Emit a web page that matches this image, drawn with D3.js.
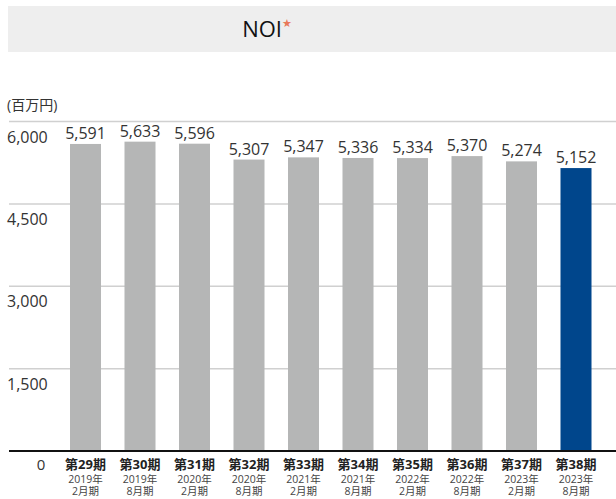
<!DOCTYPE html>
<html lang="ja">
<head>
<meta charset="utf-8">
<script src="https://cdn.jsdelivr.net/npm/d3@7"></script>
<style>
  html, body { margin: 0; padding: 0; background: #fff; }
  svg { display: block; font-family: "Open Sans", "Noto Sans CJK JP", sans-serif; }
</style>
</head>
<body>
<svg id="chart" width="616" height="499"></svg>
<script>
// NOI by fiscal period (millions of yen)
const periods = ["第29期", "第30期", "第31期", "第32期", "第33期", "第34期", "第35期", "第36期", "第37期", "第38期"];
const years = ["2019年", "2019年", "2020年", "2020年", "2021年", "2021年", "2022年", "2022年", "2023年", "2023年"];
const months = ["2月期", "8月期", "2月期", "8月期", "2月期", "8月期", "2月期", "8月期", "2月期", "8月期"];
const noi = [5591, 5633, 5596, 5307, 5347, 5336, 5334, 5370, 5274, 5152];
const yTicks = [1500, 3000, 4500, 6000];

const svg = d3.select("#chart");

// title band
svg.append("rect").attr("x", 8).attr("y", 6).attr("width", 608).attr("height", 46).attr("fill", "#eeeeee");
const title = svg.append("text").attr("x", 267).attr("y", 37).attr("text-anchor", "middle")
  .attr("font-size", 22).attr("fill", "#111");
title.append("tspan").text("NOI");
title.append("tspan").text("★").attr("fill", "#e8795a").attr("font-size", 11).attr("dy", -10).attr("font-family", "DejaVu Sans");

svg.append("text").attr("x", 7).attr("y", 110).attr("font-size", 14).attr("fill", "#333").text("(百万円)");

const y = d3.scaleLinear().domain([0, 6000]).range([451, 121.5]);
const x = d3.scaleBand().domain(periods).range([58.25, 603.25]).paddingInner(0.431).paddingOuter(0.2155);

// gridlines and tick labels
const grid = svg.append("g");
grid.selectAll("line").data(yTicks).join("line")
  .attr("x1", 9).attr("x2", 616)
  .attr("y1", d => y(d)).attr("y2", d => y(d))
  .attr("stroke", "#d0d0d0").attr("stroke-width", 1.5);
grid.selectAll("text").data(yTicks).join("text")
  .attr("x", 7).attr("y", d => y(d) + 21)
  .attr("font-size", 16).attr("fill", "#333")
  .text(d => d3.format(",")(d));

// bars
svg.append("g").selectAll("rect").data(noi).join("rect")
  .attr("x", (d, i) => x(periods[i]))
  .attr("width", x.bandwidth())
  .attr("y", d => y(d))
  .attr("height", d => y(0) - y(d))
  .attr("fill", (d, i) => i === noi.length - 1 ? "#00468c" : "#b5b6b6");

// value labels
svg.append("g").selectAll("text").data(noi).join("text")
  .attr("x", (d, i) => x(periods[i]) + x.bandwidth() / 2)
  .attr("y", d => y(d) - 5)
  .attr("text-anchor", "middle").attr("font-size", 16).attr("fill", "#333")
  .text(d => d3.format(",")(d));

// baseline
svg.append("line").attr("x1", 9).attr("x2", 616).attr("y1", y(0)).attr("y2", y(0))
  .attr("stroke", "#111").attr("stroke-width", 2);

svg.append("text").attr("x", 41).attr("y", 470).attr("text-anchor", "middle")
  .attr("font-size", 15).attr("fill", "#333").text("0");

// category labels
const cat = svg.append("g").selectAll("g").data(periods).join("g")
  .attr("transform", d => `translate(${x(d) + x.bandwidth() / 2},0)`);
cat.append("text").attr("y", 469).attr("text-anchor", "middle")
  .attr("font-size", 13).attr("font-weight", "bold").attr("fill", "#222").text(d => d);
cat.append("text").attr("y", 482.5).attr("text-anchor", "middle")
  .attr("font-size", 10.5).attr("fill", "#444").text((d, i) => years[i]);
cat.append("text").attr("y", 495).attr("text-anchor", "middle")
  .attr("font-size", 10.5).attr("fill", "#444").text((d, i) => months[i]);
</script>
</body>
</html>
